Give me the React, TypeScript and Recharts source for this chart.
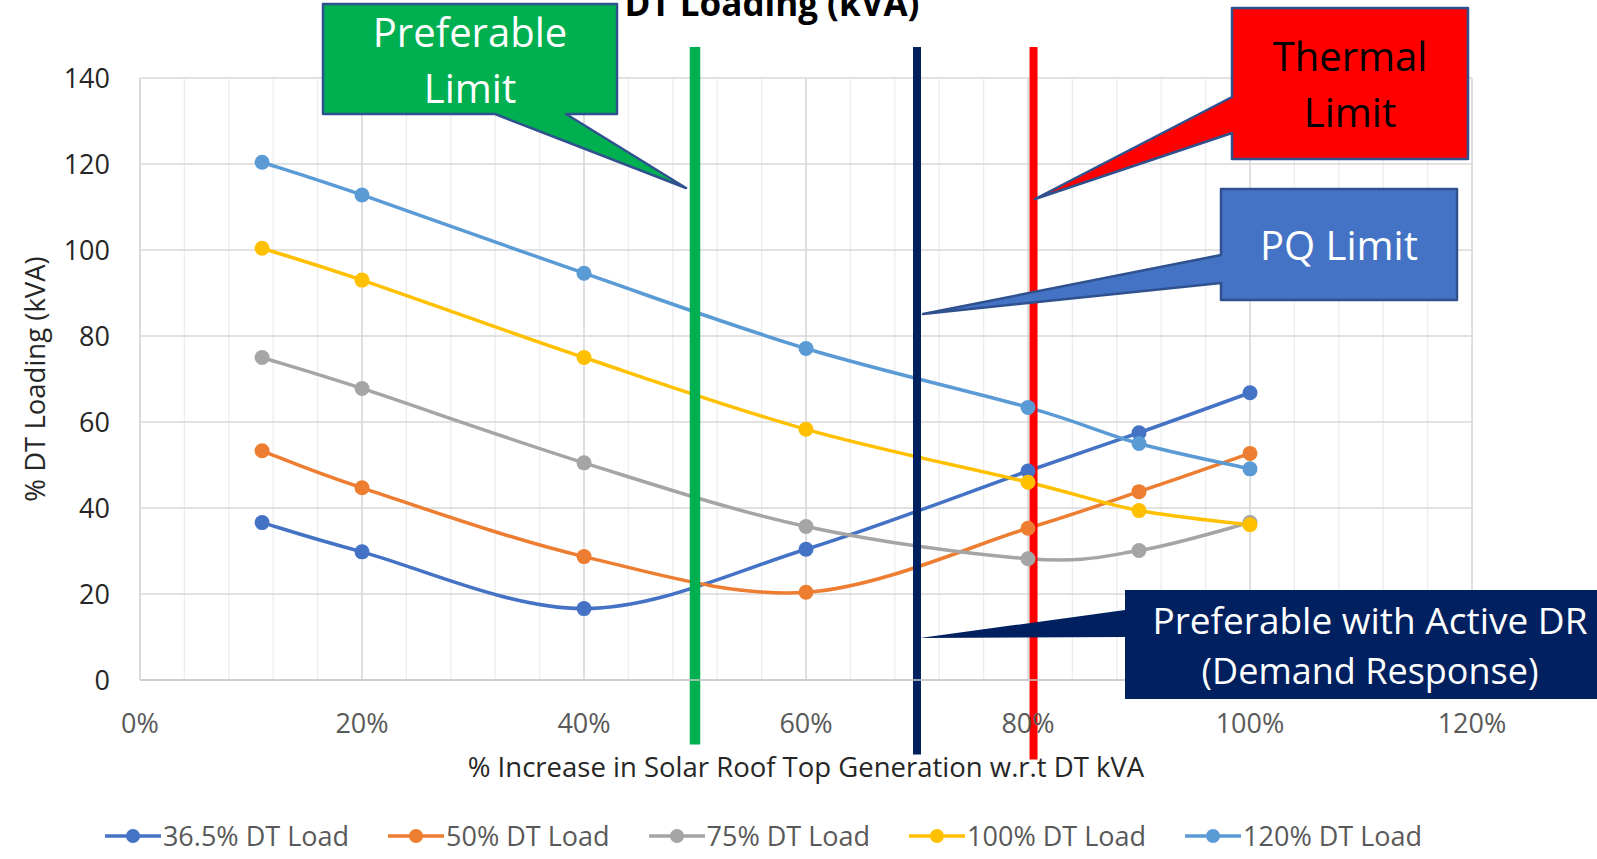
import React from 'react';
import { LineChart, Line, XAxis, YAxis, CartesianGrid, ReferenceLine } from 'recharts';

// % increase in solar roof top generation (x) and DT loading per load case
const solarIncrease = [11, 20, 40, 60, 80, 90, 100];
const load365 = [36.6, 29.8, 16.6, 30.4, 48.6, 57.5, 66.8];
const load50 = [53.3, 44.7, 28.7, 20.4, 35.3, 43.8, 52.7];
const load75 = [75.0, 67.8, 50.5, 35.7, 28.2, 30.1, 36.6];
const load100 = [100.4, 93.0, 75.0, 58.3, 46.0, 39.4, 36.1];
const load120 = [120.4, 112.8, 94.6, 77.1, 63.4, 55.0, 49.1];

const seriesNames = ['36.5% DT Load', '50% DT Load', '75% DT Load', '100% DT Load', '120% DT Load'];
const seriesColors = ['#4472C4', '#ED7D31', '#A5A5A5', '#FFC000', '#5B9BD5'];
const seriesValues = [load365, load50, load75, load100, load120];

const xTicks = [0, 4, 8, 12, 16, 20, 24, 28, 32, 36, 40, 44, 48, 52, 56, 60, 64, 68, 72, 76, 80, 84, 88, 92, 96, 100, 104, 108, 112, 116, 120];
const xMajorTicks = [0, 20, 40, 60, 80, 100, 120];
const yTicks = [0, 20, 40, 60, 80, 100, 120, 140];

// vertical limit markers: x position, bottom, top (data units)
const limitX = [50, 70, 80.5];
const limitBottom = [-15, -17.3, -18.5];
const limitTop = [147.2, 147.2, 147.2];
const limitColors = ['#00B050', '#002060', '#FF0000'];
const limitWidths = [10.5, 8, 8];

const rows = solarIncrease.map((x, i) => {
  const row: { [k: string]: number } = { x };
  seriesValues.forEach((vals, s) => {
    row['s' + s] = vals[i];
  });
  return row;
});

// Excel-like smoothed line (Catmull-Rom through the points)
const excelSmooth = (ctx: any) => {
  let pts: number[][] = [];
  return {
    areaStart() {},
    areaEnd() {},
    lineStart() {
      pts = [];
    },
    lineEnd() {
      const n = pts.length;
      if (!n) return;
      ctx.moveTo(pts[0][0], pts[0][1]);
      if (n === 2) ctx.lineTo(pts[1][0], pts[1][1]);
      if (n > 2) {
        for (let i = 0; i < n - 1; i++) {
          const p0 = pts[Math.max(i - 1, 0)];
          const p1 = pts[i];
          const p2 = pts[i + 1];
          const p3 = pts[Math.min(i + 2, n - 1)];
          ctx.bezierCurveTo(
            p1[0] + (p2[0] - p0[0]) / 6,
            p1[1] + (p2[1] - p0[1]) / 6,
            p2[0] - (p3[0] - p1[0]) / 6,
            p2[1] - (p3[1] - p1[1]) / 6,
            p2[0],
            p2[1]
          );
        }
      }
    },
    point(x: number, y: number) {
      pts.push([+x, +y]);
    },
  };
};

const FONT = '"Open Sans", "Noto Sans", sans-serif';
const calloutBorder = '#2F528F';

const Callouts = () => (
  <svg width={1597} height={859} style={{ position: 'absolute', left: 0, top: 0, pointerEvents: 'none' }}>
    <text x={772} y={16} textAnchor="middle" fontFamily={FONT} fontWeight={700} fontSize={35} fill="#000">
      DT Loading (kVA)
    </text>
    <text
      transform="translate(45,379) rotate(-90)"
      textAnchor="middle"
      fontFamily={FONT}
      fontSize={27.5}
      fill="#262626"
    >
      % DT Loading (kVA)
    </text>
    <text x={806} y={777} textAnchor="middle" fontFamily={FONT} fontSize={27.5} fill="#262626">
      % Increase in Solar Roof Top Generation w.r.t DT kVA
    </text>

    <polygon
      points="323,4 617,4 617,114 566,114 686,188 495,114 323,114"
      fill="#00B050"
      stroke={calloutBorder}
      strokeWidth={2.5}
      strokeLinejoin="round"
    />
    <text x={470} y={47} textAnchor="middle" fontFamily={FONT} fontSize={40} fill="#fff">Preferable</text>
    <text x={470} y={103} textAnchor="middle" fontFamily={FONT} fontSize={40} fill="#fff">Limit</text>

    <polygon
      points="1232,8 1468,8 1468,159 1232,159 1232,133 1035,199 1232,97"
      fill="#FF0000"
      stroke={calloutBorder}
      strokeWidth={2.5}
      strokeLinejoin="round"
    />
    <text x={1350} y={71} textAnchor="middle" fontFamily={FONT} fontSize={40} fill="#000">Thermal</text>
    <text x={1350} y={127} textAnchor="middle" fontFamily={FONT} fontSize={40} fill="#000">Limit</text>

    <polygon
      points="1221,189 1457,189 1457,300 1221,300 1221,283 923,314 1221,255"
      fill="#4472C4"
      stroke={calloutBorder}
      strokeWidth={2.5}
      strokeLinejoin="round"
    />
    <text x={1339} y={260} textAnchor="middle" fontFamily={FONT} fontSize={40} fill="#fff">PQ Limit</text>

    <polygon points="1125,590 1600,590 1600,699 1125,699 1125,637 920,638 1125,610" fill="#002060" />
    <text x={1370} y={634} textAnchor="middle" fontFamily={FONT} fontSize={37} fill="#fff">
      Preferable with Active DR
    </text>
    <text x={1370} y={684} textAnchor="middle" fontFamily={FONT} fontSize={36} fill="#fff">
      (Demand Response)
    </text>
  </svg>
);

const LegendRow = () => (
  <div
    style={{
      position: 'absolute',
      left: 0,
      top: 816,
      width: 1527,
      height: 40,
      display: 'flex',
      justifyContent: 'center',
      alignItems: 'center',
      fontFamily: FONT,
      fontSize: 27,
      lineHeight: '38px',
      color: '#595959',
    }}
  >
    {seriesNames.map((name, i) => (
      <div key={name} style={{ display: 'flex', alignItems: 'center', marginRight: i < seriesNames.length - 1 ? 39 : 0 }}>
        <svg width={56} height={20} style={{ marginRight: 2 }}>
          <line x1={0} y1={10} x2={56} y2={10} stroke={seriesColors[i]} strokeWidth={3.5} />
          <circle cx={28} cy={10} r={7} fill={seriesColors[i]} />
        </svg>
        <span style={{ whiteSpace: 'nowrap' }}>{name}</span>
      </div>
    ))}
  </div>
);

const App = () => {
  return (
    <div style={{ position: 'fixed', left: 0, top: 0, width: 1597, height: 859, background: '#fff' }}>
      <LineChart width={1597} height={859} data={rows} margin={{ top: 78, right: 125, left: 0, bottom: 0 }}>
        <CartesianGrid vertical={true} horizontal={false} stroke="#ededed" strokeWidth={1.3} />
        <CartesianGrid xAxisId="major" vertical={true} horizontal={false} stroke="#d9d9d9" strokeWidth={1.5} />
        <CartesianGrid vertical={false} horizontal={true} stroke="#d9d9d9" strokeWidth={1.5} />
        <XAxis
          dataKey="x"
          type="number"
          domain={[0, 120]}
          ticks={xTicks}
          interval={0}
          height={179}
          tickLine={false}
          axisLine={{ stroke: '#c8c8c8', strokeWidth: 1.5 }}
          tickSize={0}
          tickMargin={34}
          tickFormatter={(v: number) => (v % 20 === 0 ? `${v}%` : '')}
          tick={{ fill: '#595959', fontSize: 27, fontFamily: FONT }}
        />
        <XAxis xAxisId="major" dataKey="x" type="number" domain={[0, 120]} ticks={xMajorTicks} interval={0} hide />
        <YAxis
          type="number"
          domain={[0, 140]}
          ticks={yTicks}
          interval={0}
          width={140}
          tickLine={false}
          axisLine={{ stroke: '#d9d9d9', strokeWidth: 1.5 }}
          tickSize={0}
          tickMargin={30}
          tick={{ fill: '#262626', fontSize: 27, fontFamily: FONT }}
        />
        {seriesNames.map((name, i) => (
          <Line
            key={name}
            dataKey={'s' + i}
            name={name}
            type={excelSmooth as any}
            stroke={seriesColors[i]}
            strokeWidth={3.5}
            dot={{ r: 7.5, fill: seriesColors[i], stroke: seriesColors[i], strokeWidth: 0 }}
            activeDot={false}
            isAnimationActive={false}
          />
        ))}
        {limitX.map((x, i) => (
          <ReferenceLine
            key={'lim' + i}
            segment={[
              { x, y: limitBottom[i] },
              { x, y: limitTop[i] },
            ]}
            stroke={limitColors[i]}
            strokeWidth={limitWidths[i]}
            ifOverflow="visible"
          />
        ))}
      </LineChart>
      <Callouts />
      <LegendRow />
    </div>
  );
};

export default App;
